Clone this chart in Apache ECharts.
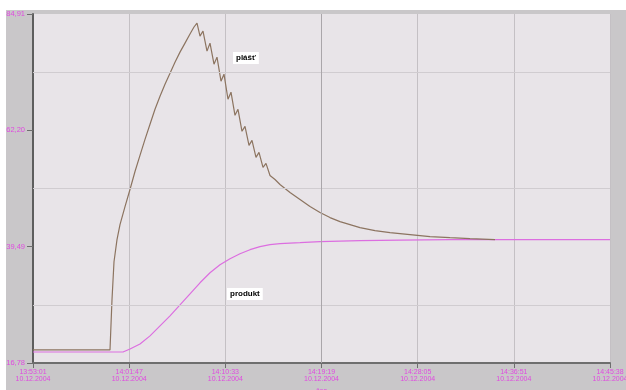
<!DOCTYPE html>
<html><head><meta charset="utf-8">
<script src="https://cdn.jsdelivr.net/npm/echarts@6/dist/echarts.min.js"></script>
<style>html,body{margin:0;padding:0;background:#fff}#c{width:626px;height:390px}</style>
</head><body><div id="c"></div>
<script>
// time in seconds after 13:53:01 (10.12.2004)
const plastTime = [0,421.3,432.2,443.2,459.6,476.0,503.4,530.7,558.1,585.4,612.8,640.2,667.5,694.9,722.2,749.6,776.9,804.3,831.7,859.0,880.9,897.3,913.7,930.1,952.0,968.4,990.3,1006.7,1028.6,1045.0,1066.9,1083.3,1105.2,1121.6,1143.5,1160.0,1181.8,1198.2,1220.1,1236.5,1258.4,1274.8,1296.7,1324.1,1351.4,1406.2,1460.9,1515.6,1570.3,1625.0,1679.7,1734.4,1789.1,1871.2,1953.3,2062.7,2172.1,2281.6,2391.0,2527.8];
const plastValues = [19.33,19.33,29.11,36.55,40.86,43.80,47.32,50.65,54.17,57.31,60.44,63.38,66.31,68.86,71.21,73.36,75.51,77.47,79.23,81.00,82.37,83.15,80.60,81.58,77.67,79.23,75.12,76.49,71.79,73.16,68.27,69.64,65.14,66.31,62.01,62.98,59.26,60.24,56.91,57.89,54.96,55.74,53.39,52.61,51.63,50.06,48.69,47.32,46.15,45.17,44.38,43.80,43.21,42.62,42.23,41.84,41.45,41.25,41.06,40.86];
const produktTime = [0,492.4,530.7,585.4,640.2,694.9,749.6,804.3,859.0,913.7,968.4,1023.1,1077.9,1132.6,1187.3,1242.0,1296.7,1351.4,1460.9,1570.3,1789.1,2008.0,2281.6,3157];
const produktValues = [18.93,18.93,19.52,20.50,22.07,24.02,25.98,28.14,30.29,32.44,34.40,35.97,37.14,38.12,38.90,39.49,39.88,40.08,40.27,40.47,40.67,40.77,40.86,40.86];
const xTickLabels = ['13:53:01\n10.12.2004','14:01:47\n10.12.2004','14:10:33\n10.12.2004','14:19:19\n10.12.2004','14:28:05\n10.12.2004','14:36:51\n10.12.2004','14:45:38\n10.12.2004'];
const yTickLabels = ['16,78','39,49','62,20','84,91'];
const yMin = 16.78, yMax = 84.91, yStep = 22.71;
const xMax = 3157, xStep = 526.1667;
const seriesNames = ['plášť','produkt'];

const zip = (a,b)=>a.map((t,i)=>[t,b[i]]);
const midLines = [];
for (let i=0;i<yTickLabels.length-1;i++) midLines.push({yAxis: yMin + yStep*(i+0.5)});

const chart = echarts.init(document.getElementById('c'));
const mag = '#e04ae0';
chart.setOption({
  animation:false,
  backgroundColor:'#ffffff',
  graphic:[
    {type:'rect', z:-10, shape:{x:6,y:10,width:620,height:380}, style:{fill:'#c9c7c9'}},
    {type:'text', z:100, left:233, top:52, style:{text:seriesNames[0], font:'bold 8px "Liberation Sans"', fill:'#000', backgroundColor:'#fff', padding:[2,3]}},
    {type:'text', z:100, left:227, top:288, style:{text:seriesNames[1], font:'bold 8px "Liberation Sans"', fill:'#000', backgroundColor:'#fff', padding:[2,3]}}
  ],
  grid:{left:33,right:16,top:14,bottom:27,outerBoundsMode:'none',containLabel:false,show:true,backgroundColor:'#e8e4e8',borderWidth:0},
  xAxis:{type:'value',min:0,max:xMax,interval:xStep,
    name:'čas', nameLocation:'middle', nameGap:22, nameTextStyle:{color:mag,fontSize:7,fontFamily:'Liberation Sans'},
    axisLine:{lineStyle:{color:'#6e6e6e',width:2}},
    axisTick:{length:5,lineStyle:{color:'#6e6e6e',width:1}},
    axisLabel:{color:mag,fontSize:7,lineHeight:7,fontFamily:'Liberation Sans',margin:6,showMinLabel:true,showMaxLabel:true,hideOverlap:false,
      formatter:v=>xTickLabels[Math.round(v/xStep)]||''},
    splitLine:{show:true,lineStyle:{color:'#c4c0c4',width:1}}},
  yAxis:{type:'value',min:yMin,max:yMax,interval:yStep,
    axisLine:{show:true,lineStyle:{color:'#5e5e5e',width:2}},
    axisTick:{show:true,length:6,lineStyle:{color:'#6e6e6e'}},
    axisLabel:{color:mag,fontSize:7.5,fontFamily:'Liberation Sans',margin:8,showMinLabel:true,showMaxLabel:true,
      formatter:v=>yTickLabels[Math.round((v-yMin)/yStep)]||''},
    splitLine:{show:false}},
  series:[
    {name:seriesNames[1],type:'line',data:zip(produktTime,produktValues),symbol:'none',
      lineStyle:{color:'#dc6ee0',width:1.2},
      markLine:{silent:true,symbol:'none',label:{show:false},lineStyle:{color:'#d0ccd0',type:'solid',width:1},
        data:midLines.concat([{xAxis:xStep*3, lineStyle:{color:'#aaa6aa'}}])}},
    {name:seriesNames[0],type:'line',data:zip(plastTime,plastValues),symbol:'none',
      lineStyle:{color:'#8c7460',width:1.2}}
  ]
});
</script></body></html>
